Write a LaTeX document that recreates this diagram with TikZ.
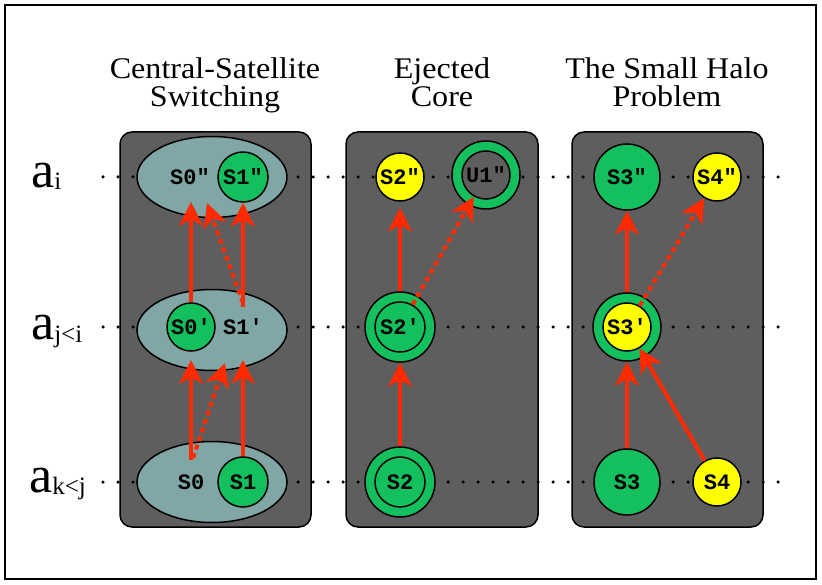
\documentclass[tikz,border=0pt]{standalone}
\usepackage{fontspec}
\setmainfont{Liberation Serif}
\setmonofont{Liberation Mono}
\newfontfamily\titlefont[FakeStretch=1.07]{Liberation Serif}
\usetikzlibrary{arrows.meta,shapes.geometric}
\definecolor{panelgray}{HTML}{5E5E5E}
\definecolor{ellfill}{HTML}{80A6A6}
\definecolor{sgreen}{HTML}{14BF5E}
\definecolor{syellow}{HTML}{FFFF00}
\definecolor{sred}{HTML}{FF2A00}
\tikzset{
  panel/.style={draw=black, line width=1.5pt, fill=panelgray, rounded corners=12pt},
  titletext/.style={anchor=north, align=center, font=\titlefont\fontsize{30}{28.5}\selectfont, inner sep=0pt},
  rowlab/.style={anchor=base west, inner sep=0pt},
  dotline/.style={line width=3.5pt, line cap=round, dash pattern=on 0pt off 15pt},
  lab/.style={font=\ttfamily\bfseries\fontsize{22}{22}\selectfont, text=black},
  grp/.style={ellipse, draw=black, line width=1.5pt, fill=ellfill, minimum width=150pt, minimum height=81pt, inner sep=0pt},
  gcirc/.style={circle, draw=black, line width=1.5pt, fill=sgreen, inner sep=0pt, lab},
  ycirc/.style={circle, draw=black, line width=1.5pt, fill=syellow, inner sep=0pt, lab},
  ringin/.style={circle, draw=black, line width=1.5pt, fill=panelgray, inner sep=0pt, lab},
  arr/.style={draw=sred, line width=4pt, -{Stealth[length=24pt,width=24pt,inset=7pt]}},
  darr/.style={arr, dash pattern=on 5pt off 4pt},
}
\begin{document}
\begin{tikzpicture}[x=1pt,y=-1pt]
\useasboundingbox (0,0) rectangle (822,585);
\draw[line width=2pt] (5,5) rectangle (816,579);

% titles
\node[titletext] (t1) at (215,57) {Central-Satellite\\Switching};
\node[titletext] (t2) at (442,57) {Ejected\\Core};
\node[titletext] (t3) at (667,57) {The Small Halo\\Problem};

% row labels
\node[rowlab] (ri) at (31,188) {\fontsize{52}{52}\selectfont a\fontsize{25}{25}\selectfont\raisebox{-2pt}{i}};
\node[rowlab] (rj) at (31,340) {\fontsize{52}{52}\selectfont a\fontsize{25}{25}\selectfont\raisebox{-2pt}{j<i}};
\node[rowlab] (rk) at (29,492) {\fontsize{52}{52}\selectfont a\fontsize{25}{25}\selectfont\raisebox{-2pt}{k<j}};

% panels
\draw[panel] (120,132) rectangle (311,527);
\draw[panel] (346,132) rectangle (538,527);
\draw[panel] (572,132) rectangle (763,527);

% dotted row lines
\coordinate (li0) at (103,177); \coordinate (li1) at (780,177);
\coordinate (lj0) at (103,327); \coordinate (lj1) at (780,327);
\coordinate (lk0) at (103,482); \coordinate (lk1) at (780,482);
\draw[dotline] (li0) -- (li1);
\draw[dotline] (lj0) -- (lj1);
\draw[dotline] (lk0) -- (lk1);

% ---- panel 1
\node[grp] (e1top) at (212,177) {};
\node[grp] (e1mid) at (212,330) {};
\node[grp] (e1bot) at (212,482) {};
\node[lab] (s0pp) at (190,177) {S0"};
\node[gcirc, minimum size=50pt] (s1pp) at (243,177) {S1"};
\node[gcirc, minimum size=48pt] (s0p) at (191,327) {S0'};
\node[lab] (s1p) at (243,327) {S1'};
\node[lab] (s0) at (191,482) {S0};
\node[gcirc, minimum size=50pt] (s1) at (243,482) {S1};

\coordinate (a1e) at (191,202);
\coordinate (a2s) at (243,307);
\coordinate (a3s) at (243,303);
\coordinate (a3e) at (207,203);
\coordinate (a4s) at (191,460);
\coordinate (a4e) at (191,360);
\coordinate (a5e) at (243,360);
\coordinate (a6s) at (193,458);
\coordinate (a6e) at (225,363);
\draw[arr] (s0p.north) -- (a1e);
\draw[arr] (a2s) -- (s1pp.south);
\draw[darr] (a3s) -- (a3e);
\draw[arr] (a4s) -- (a4e);
\draw[arr] (s1.north) -- (a5e);
\draw[darr] (a6s) -- (a6e);

% ---- panel 2
\node[ycirc, minimum size=48pt] (s2pp) at (400,177) {S2″};
\node[circle, draw=black, line width=1.5pt, fill=sgreen, minimum size=68pt] (u1) at (486,175) {};
\node[ringin, minimum size=48pt] (u1in) at (486,175) {U1"};
\node[circle, draw=black, line width=1.5pt, fill=sgreen, minimum size=70pt] (s2p) at (400,327) {};
\node[gcirc, minimum size=50pt] (s2pin) at (400,327) {S2'};
\node[circle, draw=black, line width=1.5pt, fill=sgreen, minimum size=70pt] (s2) at (400,482) {};
\node[gcirc, minimum size=50pt] (s2in) at (400,482) {S2};
\draw[arr] (s2.north) -- (s2p.south);
\draw[arr, shorten >=6pt] (s2p.north) -- (s2pp.south);
\draw[darr] (s2pin) -- (u1in);

% ---- panel 3
\node[gcirc, minimum size=66pt] (s3pp) at (627,177) {S3″};
\node[ycirc, minimum size=48pt] (s4pp) at (717,177) {S4″};
\node[circle, draw=black, line width=1.5pt, fill=sgreen, minimum size=68pt] (s3p) at (627,327) {};
\node[ycirc, minimum size=48pt] (s3pin) at (627,327) {S3'};
\node[gcirc, minimum size=66pt] (s3) at (627,482) {S3};
\node[ycirc, minimum size=48pt] (s4) at (717,482) {S4};
\draw[arr] (s3.north) -- (s3p.south);
\draw[arr] (s3p.north) -- (s3pp.south);
\draw[darr] (s3pin) -- (s4pp);
\draw[arr] (s4) -- (s3pin);
\end{tikzpicture}
\end{document}
